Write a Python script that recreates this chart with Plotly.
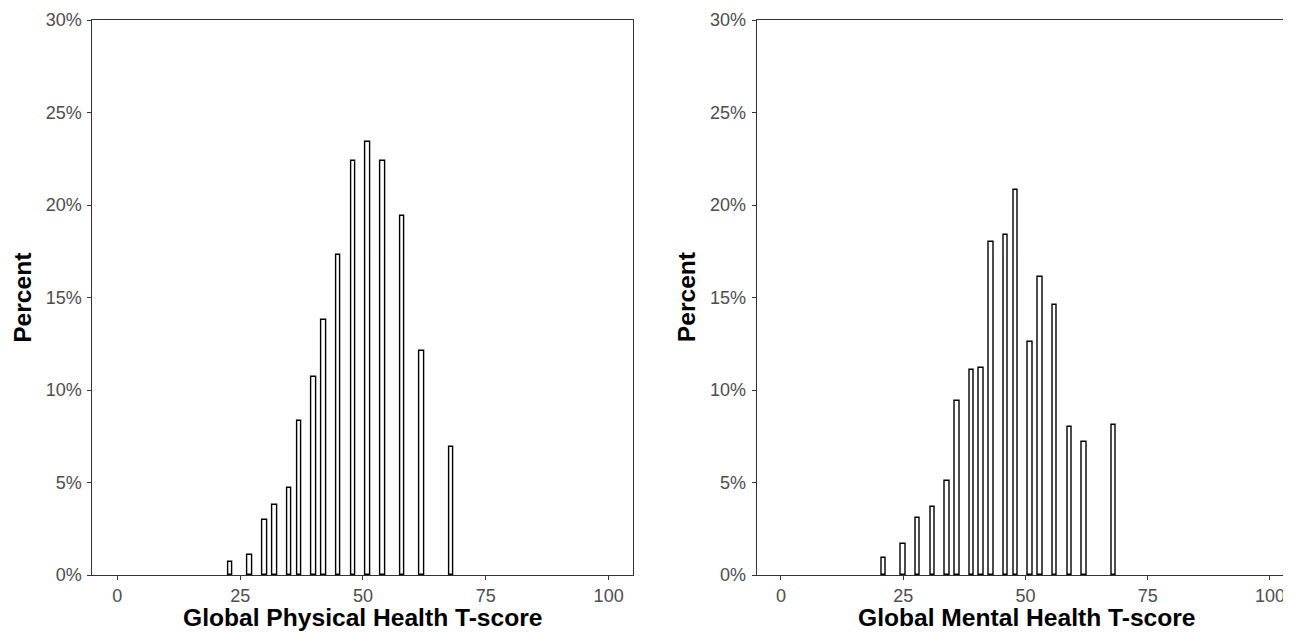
import plotly.graph_objects as go

# Global Physical Health T-score (left panel)
phys_scores = [23, 27, 30, 32, 35, 37, 40, 42, 45, 48, 51, 54, 58, 62, 68]
phys_pct = [0.7, 1.1, 3.0, 3.8, 4.7, 8.3, 10.7, 13.8, 17.3, 22.4, 23.4, 22.4, 19.4, 12.1, 6.9]

# Global Mental Health T-score (right panel)
ment_scores = [21, 25, 28, 31, 34, 36, 39, 41, 43, 46, 48, 51, 53, 56, 59, 62, 68]
ment_pct = [0.9, 1.7, 3.1, 3.7, 5.1, 9.4, 11.1, 11.2, 18.0, 18.4, 20.8, 12.6, 16.1, 14.6, 8.0, 7.2, 8.1]

x_ticks = [0, 25, 50, 75, 100]
y_ticks = [0, 5, 10, 15, 20, 25, 30]
y_ticktext = ["%d%%" % v for v in y_ticks]
x_titles = ["Global Physical Health T-score", "Global Mental Health T-score"]
y_title = "Percent"

# page has an 8px body margin; figure sized so it ends at the window edge
OFF = 8
W, H = 1291 - OFF, 632 - OFF
dom_left = [(92.3 - OFF) / W, (632.7 - OFF) / W]
dom_right = [(756.7 - OFF) / W, 1.0]
ydom = [(H - (575 - OFF)) / H, (H - (20 - OFF)) / H]

fig = go.Figure()
bar_style = dict(marker=dict(color="white", line=dict(color="black", width=1.4)),
                 width=0.92, showlegend=False, hoverinfo="x+y")
fig.add_trace(go.Bar(x=phys_scores, y=phys_pct, xaxis="x", yaxis="y", **bar_style))
fig.add_trace(go.Bar(x=ment_scores, y=ment_pct, xaxis="x2", yaxis="y2", **bar_style))

tickfont = dict(family="Liberation Sans, Arial, sans-serif", size=18, color="#4D4D4D")
axis_common = dict(showgrid=False, zeroline=False, showline=True, linecolor="#333333",
                   linewidth=1, ticks="outside", ticklen=4, tickwidth=1, tickcolor="#333333",
                   tickfont=tickfont, automargin=False, fixedrange=True)

fig.update_layout(
    width=W, height=H,
    margin=dict(l=0, r=0, t=0, b=0),
    paper_bgcolor="white", plot_bgcolor="white",
    bargap=0,
    xaxis=dict(domain=dom_left, range=[-5.1, 104.9], tickvals=x_ticks, anchor="y",
               mirror=True, **axis_common),
    yaxis=dict(domain=ydom, range=[0, 30], tickvals=y_ticks, ticktext=y_ticktext, anchor="x",
               mirror=True, ticklabelstandoff=2, **axis_common),
    xaxis2=dict(domain=dom_right, range=[-4.95, 104.3], tickvals=x_ticks, anchor="y2",
                mirror=True, **axis_common),
    yaxis2=dict(domain=ydom, range=[0, 30], tickvals=y_ticks, ticktext=y_ticktext, anchor="x2",
                mirror=False, ticklabelstandoff=2, **axis_common),
)

title_font = dict(family="Liberation Sans, Arial, sans-serif", size=24.6, color="black")
centers = [(dom_left[0] + dom_left[1]) / 2,
           ((756.7 - OFF) + 110 * 4.913 / 2) / W]
annotations = []
for dom, xt, cx in [(dom_left, x_titles[0], centers[0]), (dom_right, x_titles[1], centers[1])]:
    annotations.append(dict(text="<b>%s</b>" % xt, x=cx, y=ydom[0], xref="paper", yref="paper",
                            xanchor="center", yanchor="middle", yshift=-42, showarrow=False,
                            font=title_font))
    annotations.append(dict(text="<b>%s</b>" % y_title, x=dom[0], y=(ydom[0] + ydom[1]) / 2,
                            xref="paper", yref="paper", xanchor="center", yanchor="middle",
                            xshift=-70, textangle=-90, showarrow=False, font=title_font))
fig.update_layout(annotations=annotations)

fig.write_html("out.html")
